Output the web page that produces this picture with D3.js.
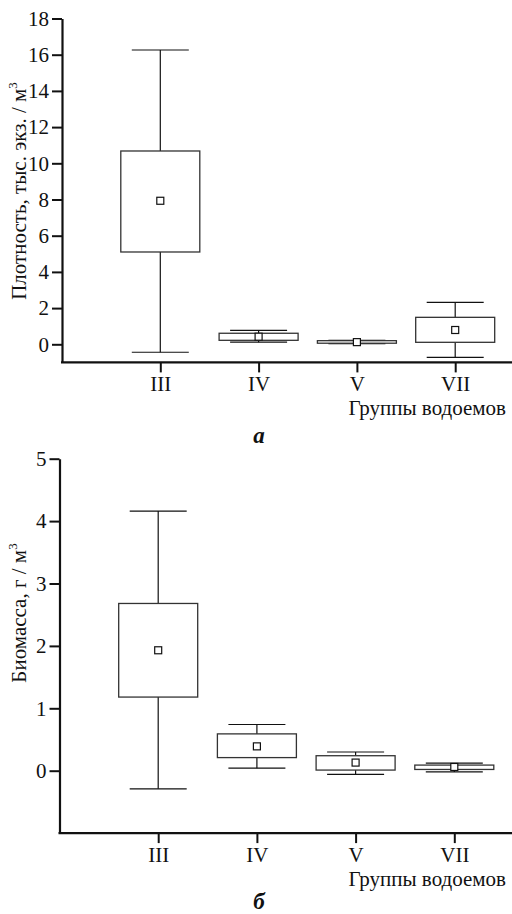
<!DOCTYPE html>
<html><head><meta charset="utf-8">
<script src="https://cdn.jsdelivr.net/npm/d3@7"></script>
<style>
html,body{margin:0;padding:0;background:#fff;}
svg{display:block;}
text{font-family:"Liberation Serif","Times New Roman",serif;fill:#111;}
</style></head>
<body>
<svg id="chart" width="512" height="914"></svg>
<script>
// ---- Data ----
const categories = ["III", "IV", "V", "VII"];

// Chart a: density, thousand ind. / m3
const densityWhiskerHigh = [16.26, 0.77, 0.22, 2.32];
const densityBoxHigh     = [10.68, 0.61, 0.20, 1.49];
const densityMean        = [7.93, 0.42, 0.12, 0.79];
const densityBoxLow      = [5.10, 0.22, 0.06, 0.11];
const densityWhiskerLow  = [-0.44, 0.12, 0.04, -0.72];
const densityTicks = [0, 2, 4, 6, 8, 10, 12, 14, 16, 18];

// Chart б: biomass, g / m3
const biomassWhiskerHigh = [4.16, 0.74, 0.30, 0.12];
const biomassBoxHigh     = [2.68, 0.59, 0.24, 0.09];
const biomassMean        = [1.93, 0.39, 0.13, 0.06];
const biomassBoxLow      = [1.18, 0.21, 0.01, 0.02];
const biomassWhiskerLow  = [-0.29, 0.04, -0.06, -0.02];
const biomassTicks = [0, 1, 2, 3, 4, 5];

const xTitle = "Группы водоемов";

const svg = d3.select("#chart");
const FS = 21;

function drawPanel(cfg) {
  const g = svg.append("g");
  const y = d3.scaleLinear().domain(cfg.yDomain).range([cfg.bottom, cfg.top]);
  const x = d3.scalePoint().domain(categories).range([cfg.left + cfg.step, cfg.left + cfg.step * 4]);

  const rows = categories.map((c, i) => ({
    c, wh: cfg.wh[i], bh: cfg.bh[i], m: cfg.mean[i], bl: cfg.bl[i], wl: cfg.wl[i]
  }));

  const boxW = 79, capW = 57, ms = 7;

  const bx = g.append("g");
  rows.forEach(d => {
    const cx = x(d.c);
    bx.append("line").attr("x1", cx).attr("x2", cx).attr("y1", y(d.wh)).attr("y2", y(d.bh))
      .attr("stroke", "#111").attr("stroke-width", 1.2);
    bx.append("line").attr("x1", cx).attr("x2", cx).attr("y1", y(d.bl)).attr("y2", y(d.wl))
      .attr("stroke", "#111").attr("stroke-width", 1.2);
    bx.append("line").attr("x1", cx - capW / 2).attr("x2", cx + capW / 2).attr("y1", y(d.wh)).attr("y2", y(d.wh))
      .attr("stroke", "#111").attr("stroke-width", 1.2);
    bx.append("line").attr("x1", cx - capW / 2).attr("x2", cx + capW / 2).attr("y1", y(d.wl)).attr("y2", y(d.wl))
      .attr("stroke", "#111").attr("stroke-width", 1.2);
    bx.append("rect").attr("x", cx - boxW / 2).attr("width", boxW)
      .attr("y", y(d.bh)).attr("height", Math.max(1, y(d.bl) - y(d.bh)))
      .attr("fill", "#fff").attr("stroke", "#333").attr("stroke-width", 1.3);
    bx.append("rect").attr("x", cx - ms / 2).attr("y", y(d.m) - ms / 2)
      .attr("width", ms).attr("height", ms)
      .attr("fill", "#fff").attr("stroke", "#111").attr("stroke-width", 1.2);
  });

  // y axis
  const ya = g.append("g").attr("transform", `translate(${cfg.left},0)`)
    .call(d3.axisLeft(y).tickValues(cfg.ticks).tickFormat(d3.format("d"))
      .tickSizeOuter(0).tickSizeInner(10).tickPadding(3));
  ya.attr("font-family", null).attr("font-size", null);
  ya.select(".domain").attr("stroke", "#111").attr("stroke-width", 2.2);
  ya.selectAll(".tick line").attr("stroke", "#111").attr("stroke-width", 2);
  ya.selectAll(".tick text").attr("font-size", FS).attr("fill", "#111");

  // x axis
  const xa = g.append("g").attr("transform", `translate(0,${cfg.bottom})`)
    .call(d3.axisBottom(x).tickSizeOuter(0).tickSizeInner(10).tickPadding(4));
  xa.attr("font-family", null).attr("font-size", null);
  xa.select(".domain").remove();
  xa.append("line").attr("x1", cfg.left - 1).attr("x2", 512).attr("y1", 0).attr("y2", 0)
    .attr("stroke", "#111").attr("stroke-width", 2.2);
  xa.selectAll(".tick line").attr("stroke", "#111").attr("stroke-width", 2);
  xa.selectAll(".tick text").attr("font-size", FS).attr("fill", "#111");

  // x title
  g.append("text").attr("x", 506).attr("y", cfg.bottom + 53).attr("text-anchor", "end")
    .attr("font-size", FS).text(xTitle);

  // y title
  const yt = g.append("text")
    .attr("transform", `translate(26,${cfg.yTitleY}) rotate(-90)`)
    .attr("text-anchor", "middle").attr("font-size", FS);
  yt.append("tspan").text(cfg.yTitle);
  yt.append("tspan").attr("dy", -9).attr("font-size", 13).text("3");

  // panel letter
  g.append("text").attr("x", 259).attr("y", cfg.letterY).attr("text-anchor", "middle")
    .attr("font-size", 23).attr("font-weight", "bold").attr("font-style", "italic").text(cfg.letter);
}

drawPanel({
  yDomain: [-1, 18], top: 18.5, bottom: 362.4, left: 62, step: 98.3,
  wh: densityWhiskerHigh, bh: densityBoxHigh, mean: densityMean, bl: densityBoxLow, wl: densityWhiskerLow,
  ticks: densityTicks, yTitle: "Плотность, тыс. экз. / м", yTitleY: 191, letter: "а", letterY: 443
});

drawPanel({
  yDomain: [-1, 5], top: 458.7, bottom: 833.1, left: 59.5, step: 98.7,
  wh: biomassWhiskerHigh, bh: biomassBoxHigh, mean: biomassMean, bl: biomassBoxLow, wl: biomassWhiskerLow,
  ticks: biomassTicks, yTitle: "Биомасса, г / м", yTitleY: 613, letter: "б", letterY: 909
});
</script>
</body></html>
